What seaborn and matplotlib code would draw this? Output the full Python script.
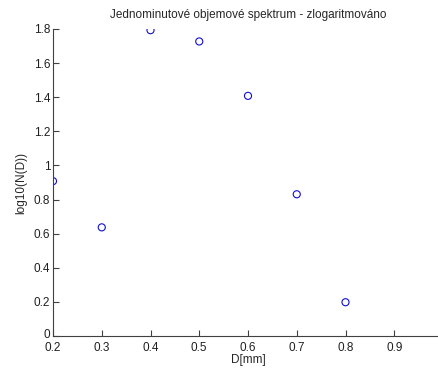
import matplotlib
matplotlib.use("Agg")
import matplotlib.pyplot as plt
import matplotlib.transforms as mtransforms
import seaborn as sns
import pandas as pd

D = [0.2, 0.3, 0.4, 0.5, 0.6, 0.7, 0.8]
logN = [0.908, 0.637, 1.793, 1.727, 1.408, 0.831, 0.198]
xticks = [0.2, 0.3, 0.4, 0.5, 0.6, 0.7, 0.8, 0.9]
yticks = [0, 0.2, 0.4, 0.6, 0.8, 1.0, 1.2, 1.4, 1.6, 1.8]
xlabels = ["0.2", "0.3", "0.4", "0.5", "0.6", "0.7", "0.8", "0.9"]
ylabels = ["0", "0.2", "0.4", "0.6", "0.8", "1", "1.2", "1.4", "1.6", "1.8"]

sns.set_style("ticks")
plt.rcParams["font.family"] = ["Liberation Sans", "DejaVu Sans"]

df = pd.DataFrame({"D": D, "logN": logN})
fig = plt.figure(figsize=(4.39, 3.72), dpi=100)
ax = fig.add_axes([53/439, 36/372, 390/439, 307/372])
sns.scatterplot(data=df, x="D", y="logN", ax=ax, s=26, marker="o",
                facecolors="none", edgecolor="#1010d0", linewidth=0.8)
ax.set_xlim(0.2, 1.0)
ax.set_ylim(0, 1.8)
ax.set_xticks(xticks)
ax.set_xticklabels(xlabels)
ax.set_yticks(yticks)
ax.set_yticklabels(ylabels)
ax.tick_params(direction="in", length=4, width=0.8, labelsize=8.5, colors="#404040")
ax.tick_params(axis="x", pad=4)
ax.tick_params(axis="y", pad=2)
for t in ax.get_xticklabels() + ax.get_yticklabels():
    t.set_color("#202020")
# nudge the "0" y-label up slightly so it sits above the x-tick labels
zero = ax.get_yticklabels()[0]
zero.set_transform(zero.get_transform() + mtransforms.ScaledTranslation(0, 3/100, fig.dpi_scale_trans))
for s in ["top", "right"]:
    ax.spines[s].set_visible(False)
for s in ["left", "bottom"]:
    ax.spines[s].set_color("#404040")
    ax.spines[s].set_linewidth(0.8)
ax.set_xlabel("D[mm]", fontsize=8.5, labelpad=0)
ax.set_ylabel("log10(N(D))", fontsize=8.5, labelpad=5)
ax.set_title("Jednominutové objemové spektrum - zlogaritmováno", fontsize=8.5, pad=8)
fig.savefig("out.png", dpi=100)
